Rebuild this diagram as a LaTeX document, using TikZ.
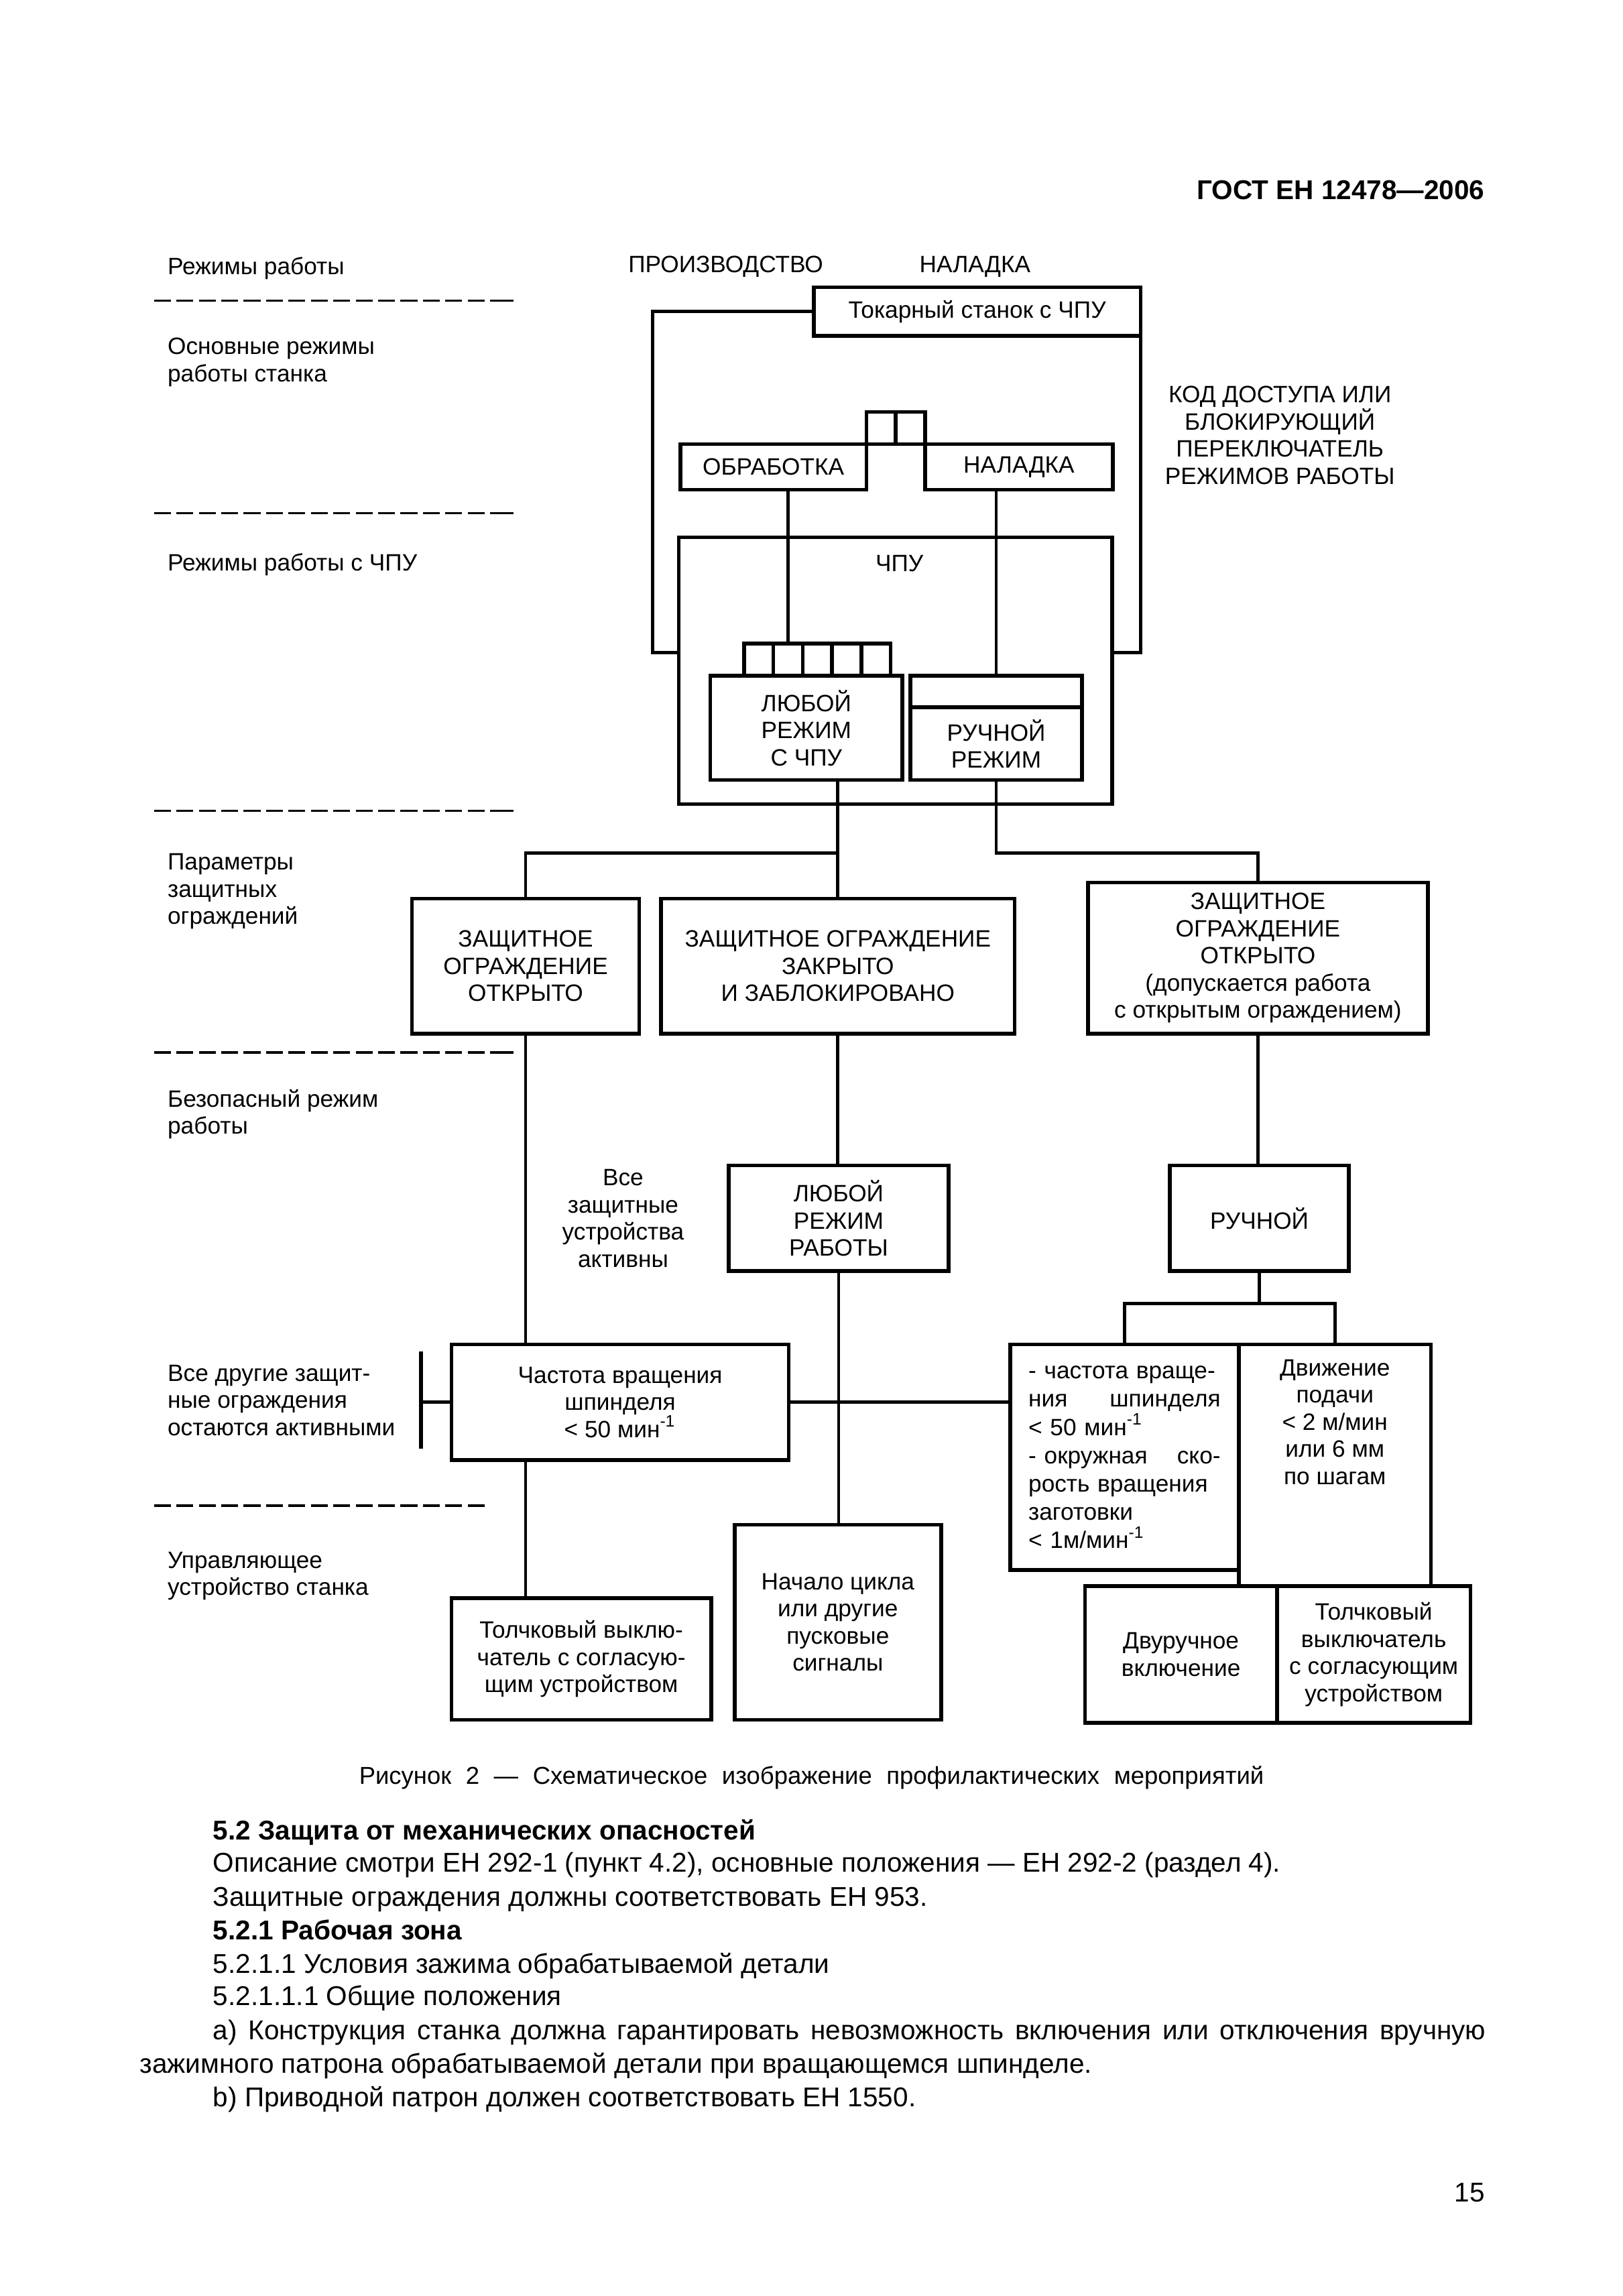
\documentclass[tikz,border=0pt]{standalone}
\usepackage{fontspec}
\setmainfont{Liberation Sans}
\newdimen\gu
\gu=0.1897mm
\newcommand\lblfont{\fontsize{8.7}{10}\selectfont}
\newcommand\txtfont{\fontsize{10}{12.3}\selectfont}
\tikzset{
  blk/.style 2 args={draw,line width=1.4pt,minimum width=#1*\gu,minimum height=#2*\gu,inner sep=0pt,outer sep=0pt,align=center,font=\lblfont},
  lbl/.style={inner sep=0pt,align=left,font=\lblfont},
  txt/.style={inner sep=0pt,anchor=base west,font=\txtfont},
  conn/.style={line width=1.2pt},
  sep/.style={line width=0.9pt,dash pattern=on 2.18mm off 0.72mm},
}
\begin{document}
\begin{tikzpicture}[x=0.1897mm,y=-0.1897mm]
\useasboundingbox (0,0) rectangle (1107,1566.1);
\node[inner sep=0pt,anchor=base east,font=\fontsize{10}{12}\selectfont\bfseries] (gost) at (1013,136) {ГОСТ ЕН 12478—2006};

\node[lbl,anchor=west] (l1) at (114,183) {Режимы работы};
\node[lbl,anchor=west] (l2) at (114,247) {Основные режимы\\работы станка};
\node[lbl,anchor=west] (l3) at (114,385) {Режимы работы с ЧПУ};
\node[lbl,anchor=west] (l4) at (114,608) {Параметры\\защитных\\ограждений};
\node[lbl,anchor=west] (l5) at (114,760) {Безопасный режим\\работы};
\node[lbl,anchor=west] (l6) at (114,955) {Все другие защит-\\ные ограждения\\остаются активными};
\node[lbl,anchor=west] (l7) at (114,1075) {Управляющее\\устройство станка};
\foreach \yy in {205,350,553,718} {
  \draw[sep] (105,\yy) -- (350,\yy);
  \draw[line width=0.9pt] (334.5,\yy) -- (350,\yy);
}
\draw[sep] (105,1027) -- (332,1027);

\node[lbl] (prod) at (495,182) {ПРОИЗВОДСТВО};
\node[lbl] (adj) at (665,182) {НАЛАДКА};
\node[lbl,align=center] (key) at (873,297) {КОД ДОСТУПА ИЛИ\\БЛОКИРУЮЩИЙ\\ПЕРЕКЛЮЧАТЕЛЬ\\РЕЖИМОВ РАБОТЫ};

\node[blk={223}{33}] (lathe) at (666.5,212.5) {Токарный станок с ЧПУ};
\node[blk={127}{31}] (proc) at (527.5,318.5) {ОБРАБОТКА};
\node[blk={128}{31}] (setup) at (695,318.5) {НАЛАДКА};
\node[blk={20}{22}] (sw1) at (601,292) {};
\node[blk={20}{22}] (sw2) at (621,292) {};

\node[blk={295.5}{182}] (cnc) at (610.75,457.5) {};
\node[lbl] (cnctxt) at (613.5,384.5) {ЧПУ};
\foreach \i in {1,...,5}
  \node[blk={20}{22}] (c\i) at (497.5+20*\i,450) {};
\node[blk={131}{71}] (anycnc) at (550,496.5) {ЛЮБОЙ\\РЕЖИМ\\С ЧПУ};
\node[blk={117}{21.5}] (hstrip) at (679.5,471.75) {};
\node[blk={117}{49.5}] (hand) at (679.5,507.25) {РУЧНОЙ\\РЕЖИМ};

\coordinate (lpL) at (445,445);
\coordinate (lpR) at (778,445);
\draw[conn] (lathe.west) -| (lpL) -- (cnc.west |- lpL);
\draw[conn] (lathe.south east) -- (lathe.south east |- lpR) -- (cnc.east |- lpR);
\draw[conn] (proc.south -| c2.north) -- (c2.north);
\draw[conn] (setup.south -| hstrip.north) -- (hstrip.north);

\coordinate (jy) at (0,582);
\node[blk={155}{92}] (gopen) at (358.5,659) {ЗАЩИТНОЕ\\ОГРАЖДЕНИЕ\\ОТКРЫТО};
\node[blk={241}{92}] (gclosed) at (571.5,659) {ЗАЩИТНОЕ ОГРАЖДЕНИЕ\\ЗАКРЫТО\\И ЗАБЛОКИРОВАНО};
\node[blk={232}{103}] (gopenw) at (858,653.5) {ЗАЩИТНОЕ\\ОГРАЖДЕНИЕ\\ОТКРЫТО\\(допускается работа\\с открытым ограждением)};
\draw[conn] (gclosed.north |- anycnc.south) -- (gclosed.north);
\draw[conn] (gopen.north) -- (gopen.north |- jy) -- (gclosed.north |- jy);
\draw[conn] (hand.south) -- (hand.south |- jy) -- (gopenw.north |- jy) -- (gopenw.north);

\node[lbl,align=center] (alldev) at (425,831) {Все\\защитные\\устройства\\активны};
\node[blk={150}{72}] (anyop) at (572,831) {ЛЮБОЙ\\РЕЖИМ\\РАБОТЫ};
\node[blk={122}{72}] (manual) at (859,831) {РУЧНОЙ};
\draw[conn] (gclosed.south) -- (gclosed.south |- anyop.north);
\draw[conn] (gopenw.south) -- (gopenw.south |- manual.north);

\node[blk={230}{79}] (freq) at (423,956.5) {Частота вращения\\шпинделя\\< 50 мин\textsuperscript{-1}};
\coordinate (barT) at (287,922);
\coordinate (barB) at (287,988);
\draw[line width=1.4pt] (barT) -- (barB);
\draw[conn] (freq.west) -- (freq.west -| barT);
\draw[conn] (gopen.south) -- (gopen.south |- freq.north);

\node[blk={156}{154},text width=24.85mm,align=left,font=\fontsize{8.7}{10.4}\selectfont] (spdA) at (767,994) {- частота враще-\\\makebox[24.85mm][l]{ния\hfill шпинделя}\\< 50 мин\textsuperscript{-1}\\\makebox[24.85mm][l]{- окружная\hfill ско-}\\рость вращения\\заготовки\\< 1м/мин\textsuperscript{-1}};
\node[blk={131}{165}] (feed) at (910.5,999.5) {};
\node[lbl,align=center] (feedtxt) at (910.5,970) {Движение\\подачи\\< 2 м/мин\\или 6 мм\\по шагам};
\coordinate (br) at (0,889);
\draw[conn] (manual.south) -- (manual.south |- br);
\draw[conn] (spdA.north) -- (spdA.north |- br) -- (feed.north |- br) -- (feed.north);
\draw[conn] (freq.east) -- (freq.east -| spdA.west);

\node[blk={177}{83}] (jog) at (396.5,1131.5) {Толчковый выклю-\\чатель с согласую-\\щим устройством};
\node[blk={141}{133}] (start) at (571.5,1106.5) {Начало цикла\\или другие\\пусковые\\сигналы};
\node[blk={131}{93}] (twohand) at (805.5,1128.5) {Двуручное\\включение};
\node[blk={132}{93}] (jog2) at (937,1128.5) {Толчковый\\выключатель\\с согласующим\\устройством};
\draw[conn] (gopen.south |- freq.south) -- (gopen.south |- jog.north);
\draw[conn] (anyop.south) -- (anyop.south |- start.north);

\node[inner sep=0pt,anchor=base,font=\fontsize{9}{11}\selectfont] (cap) at (553.5,1217) {\makebox[117.05mm][s]{Рисунок 2 — Схематическое изображение профилактических мероприятий}};
\node[txt] (t1) at (145,1255) {\bfseries 5.2 Защита от механических опасностей};
\node[txt] (t2) at (145,1277) {Описание смотри ЕН 292-1 (пункт 4.2), основные положения — ЕН 292-2 (раздел 4).};
\node[txt] (t3) at (145,1300) {Защитные ограждения должны соответствовать ЕН 953.};
\node[txt] (t4) at (145,1323) {\bfseries 5.2.1 Рабочая зона};
\node[txt] (t5) at (145,1346) {5.2.1.1 Условия зажима обрабатываемой детали};
\node[txt] (t6) at (145,1368) {5.2.1.1.1 Общие положения};
\node[txt] (t7) at (145,1391) {\makebox[164.66mm][s]{а) Конструкция станка должна гарантировать невозможность включения или отключения вручную}};
\node[txt] (t8) at (95,1414) {зажимного патрона обрабатываемой детали при вращающемся шпинделе.};
\node[txt] (t9) at (145,1437) {b) Приводной патрон должен соответствовать ЕН 1550.};
\node[inner sep=0pt,anchor=base east,font=\txtfont] (page) at (1013,1502) {15};
\end{tikzpicture}
\end{document}
